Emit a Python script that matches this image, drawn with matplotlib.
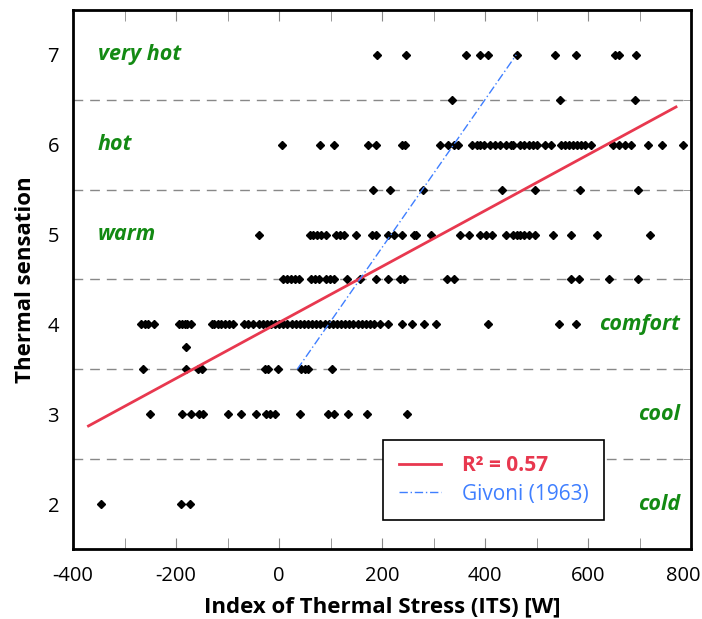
import matplotlib
matplotlib.use("Agg")
import matplotlib.pyplot as plt
from matplotlib.lines import Line2D
from matplotlib.ticker import MultipleLocator, FuncFormatter

plt.rcParams['font.family'] = ['Open Sans', 'DejaVu Sans']
plt.rcParams['axes.unicode_minus'] = False

# observations, grouped by thermal sensation vote
row_7 = [189, 246, 363, 390, 406, 461, 535, 576, 652, 660, 692]
row_65 = [336, 545, 691]
row_6 = [5, 80, 106, 173, 187, 238, 244, 312, 328, 340, 347, 375, 383, 390, 398,
         410, 418, 429, 441, 449, 453, 468, 476, 484, 492, 500, 515, 527, 546, 554,
         562, 570, 578, 586, 593, 605, 648, 660, 671, 683, 716, 743, 784]
row_55 = [183, 215, 279, 433, 496, 584, 696]
row_5 = [-39, 60, 66, 74, 82, 90, 111, 119, 125, 150, 180, 187, 211, 223, 238, 262,
         265, 295, 350, 369, 390, 402, 412, 441, 453, 461, 468, 476, 484, 496, 531,
         566, 617, 720]
row_45 = [8, 16, 23, 31, 39, 61, 69, 77, 90, 98, 106, 131, 156, 187, 211, 234, 242,
          326, 340, 566, 582, 640, 696]
row_4 = [-269, -261, -254, -242, -195, -189, -183, -178, -172, -131, -126, -119,
         -113, -105, -97, -90, -68, -60, -51, -40, -31, -23, -16, -8, 0, 8, 16, 24,
         32, 40, 48, 56, 64, 72, 80, 88, 96, 104, 112, 120, 128, 136, 144, 152, 160,
         168, 176, 184, 195, 211, 238, 258, 281, 304, 406, 543, 576]
row_375 = [-181]
row_35 = [-265, -181, -158, -150, -27, -22, -2, 43, 51, 56, 103]
row_3 = [-250, -189, -172, -156, -148, -99, -74, -45, -25, -17, -8, 41, 94, 106,
         133, 170, 248]
row_2 = [-345, -191, -173]

rows = [(7, row_7), (6.5, row_65), (6, row_6), (5.5, row_55), (5, row_5),
        (4.5, row_45), (4, row_4), (3.75, row_375), (3.5, row_35), (3, row_3),
        (2, row_2)]

# regression line and Givoni (1963) line end points
fit_x = [-370, 770]
fit_y = [2.87, 6.42]
givoni_x = [35, 460]
givoni_y = [3.5, 7.0]

left_labels = [(7, 'very hot'), (6, 'hot'), (5, 'warm')]
right_labels = [(4, 'comfort'), (3, 'cool'), (2, 'cold')]

red = '#e8384f'
blue = '#3f7fff'
green = '#138a13'

fig = plt.figure(figsize=(7.02, 6.19), dpi=100)
ax = fig.add_axes([0.104, 0.113, 0.881, 0.871])

for yv, xs in rows:
    ax.plot(xs, [yv] * len(xs), 'D', color='black', ms=4.5, ls='none', zorder=3)

ax.plot(fit_x, fit_y, color=red, lw=2, zorder=4)
ax.plot(givoni_x, givoni_y, color=blue, lw=1, dashes=(6, 2, 1, 2), zorder=4)

for yv in [2.5, 3.5, 4.5, 5.5, 6.5]:
    ax.axhline(yv, color='#888888', lw=1, dashes=(7, 5), zorder=1)

for yv, t in left_labels:
    ax.text(-352, yv, t, color=green, fontsize=15.5, fontweight='bold',
            fontstyle='italic', va='center', ha='left')
for yv, t in right_labels:
    ax.text(778, yv, t, color=green, fontsize=15.5, fontweight='bold',
            fontstyle='italic', va='center', ha='right')

ax.set_xlim(-400, 800)
ax.set_ylim(1.5, 7.5)
ax.xaxis.set_major_locator(MultipleLocator(200))
ax.xaxis.set_minor_locator(MultipleLocator(100))
ax.yaxis.set_major_locator(MultipleLocator(1))
ax.yaxis.set_minor_locator(MultipleLocator(0.5))
# the 800 label is drawn separately, shifted left so it fits in the figure
ax.xaxis.set_major_formatter(FuncFormatter(lambda v, p: '' if v >= 800 else '%d' % v))
ax.tick_params(axis='x', which='both', direction='in', length=8, color='#888888',
               top=True, bottom=True, labelsize=14.5, pad=12)
ax.tick_params(axis='y', which='major', length=0, labelsize=14.5, pad=10)
ax.tick_params(axis='y', which='minor', direction='in', length=6, color='#888888',
               left=True, right=True)
for s in ax.spines.values():
    s.set_linewidth(2)
ax.annotate('800', xy=(800, 0), xycoords=ax.get_xaxis_transform(),
            xytext=(-6, -12), textcoords='offset points', ha='center', va='top',
            fontsize=14.5)

ax.set_xlabel('Index of Thermal Stress (ITS) [W]', fontsize=16, fontweight='bold',
              labelpad=8)
ax.set_ylabel('Thermal sensation', fontsize=16, fontweight='bold', labelpad=8)

handles = [Line2D([], [], color=red, lw=2),
           Line2D([], [], color=blue, lw=1, dashes=(6, 2, 1, 2))]
leg = ax.legend(handles, ['R² = 0.57', 'Givoni (1963)'], loc='upper left',
                bbox_to_anchor=(0.485, 0.222), fancybox=False, edgecolor='black',
                framealpha=1, fontsize=15, handlelength=2.0, handletextpad=1.0,
                borderpad=0.75, labelspacing=0.35)
leg.get_frame().set_linewidth(1.2)
leg.get_texts()[0].set_color(red)
leg.get_texts()[0].set_fontweight('bold')
leg.get_texts()[1].set_color(blue)

fig.savefig('out.png', dpi=100)
